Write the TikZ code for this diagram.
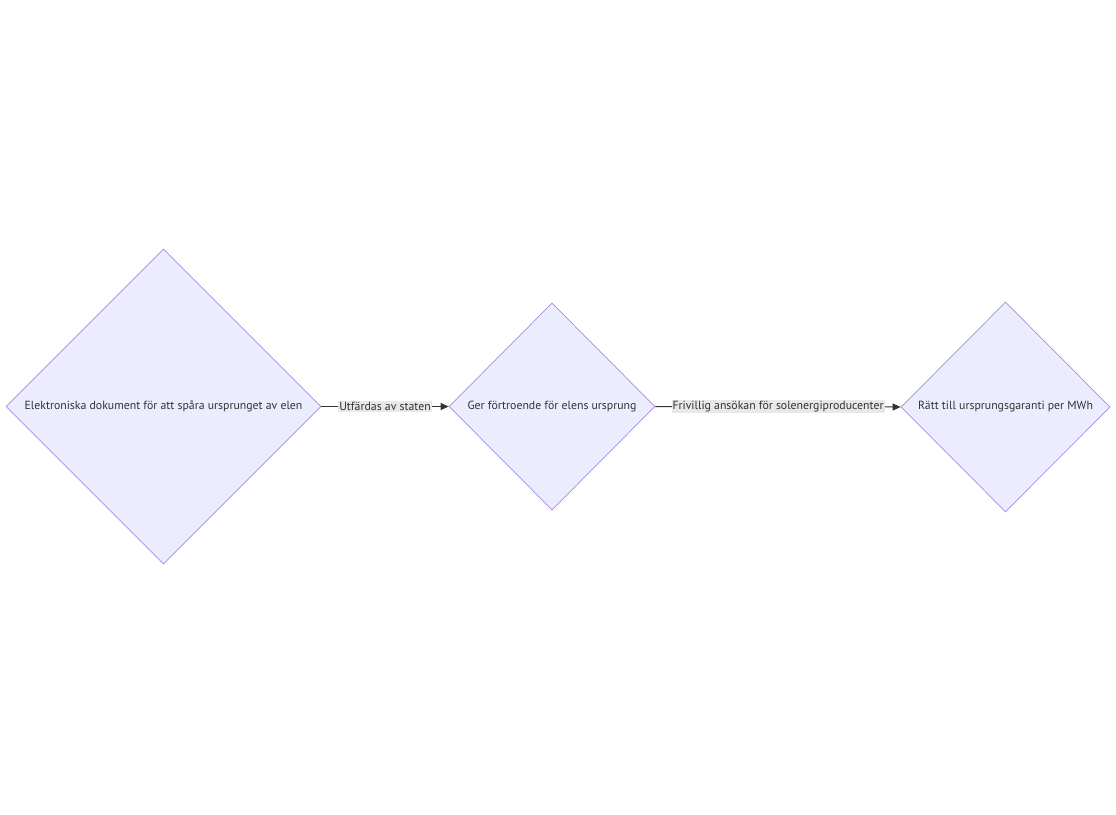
\documentclass[tikz,border=0pt]{standalone}
\usepackage{fontspec}
\setmainfont{PT Sans}
\usetikzlibrary{shapes.geometric,arrows.meta}
\definecolor{nodefill}{HTML}{ECECFF}
\definecolor{nodestroke}{HTML}{A58AE3}
\definecolor{txt}{HTML}{333333}
\definecolor{lblbg}{HTML}{E8E8E8}
\tikzset{
  dec/.style={diamond, draw=nodestroke, fill=nodefill, line width=0.7pt, inner sep=0pt, text=txt, font=\fontsize{11.8}{14}\selectfont},
  conn/.style={draw=txt, line width=1pt, -{Triangle[length=8pt,width=7pt]}},
  elabel/.style={fill=lblbg, text=txt, inner sep=1pt, font=\fontsize{11.8}{14}\selectfont}
}
\begin{document}
\begin{tikzpicture}[x=1pt,y=-1pt]
\useasboundingbox (0,0) rectangle (1116,814);
\node[dec, minimum width=315pt, minimum height=315pt] (a) at (163.5,406.5) {Elektroniska dokument för att spåra ursprunget av elen};
\node[dec, minimum width=206pt, minimum height=207pt] (b) at (552,406.5) {Ger förtroende för elens ursprung};
\node[dec, minimum width=209pt, minimum height=210pt] (c) at (1005.5,407) {Rätt till ursprungsgaranti per MWh};
\draw[conn] (a.east) -- node[elabel] {Utfärdas av staten} (b.west);
\draw[conn] (b.east) -- node[elabel] {Frivillig ansökan för solenergiproducenter} (c.west);
\end{tikzpicture}
\end{document}
